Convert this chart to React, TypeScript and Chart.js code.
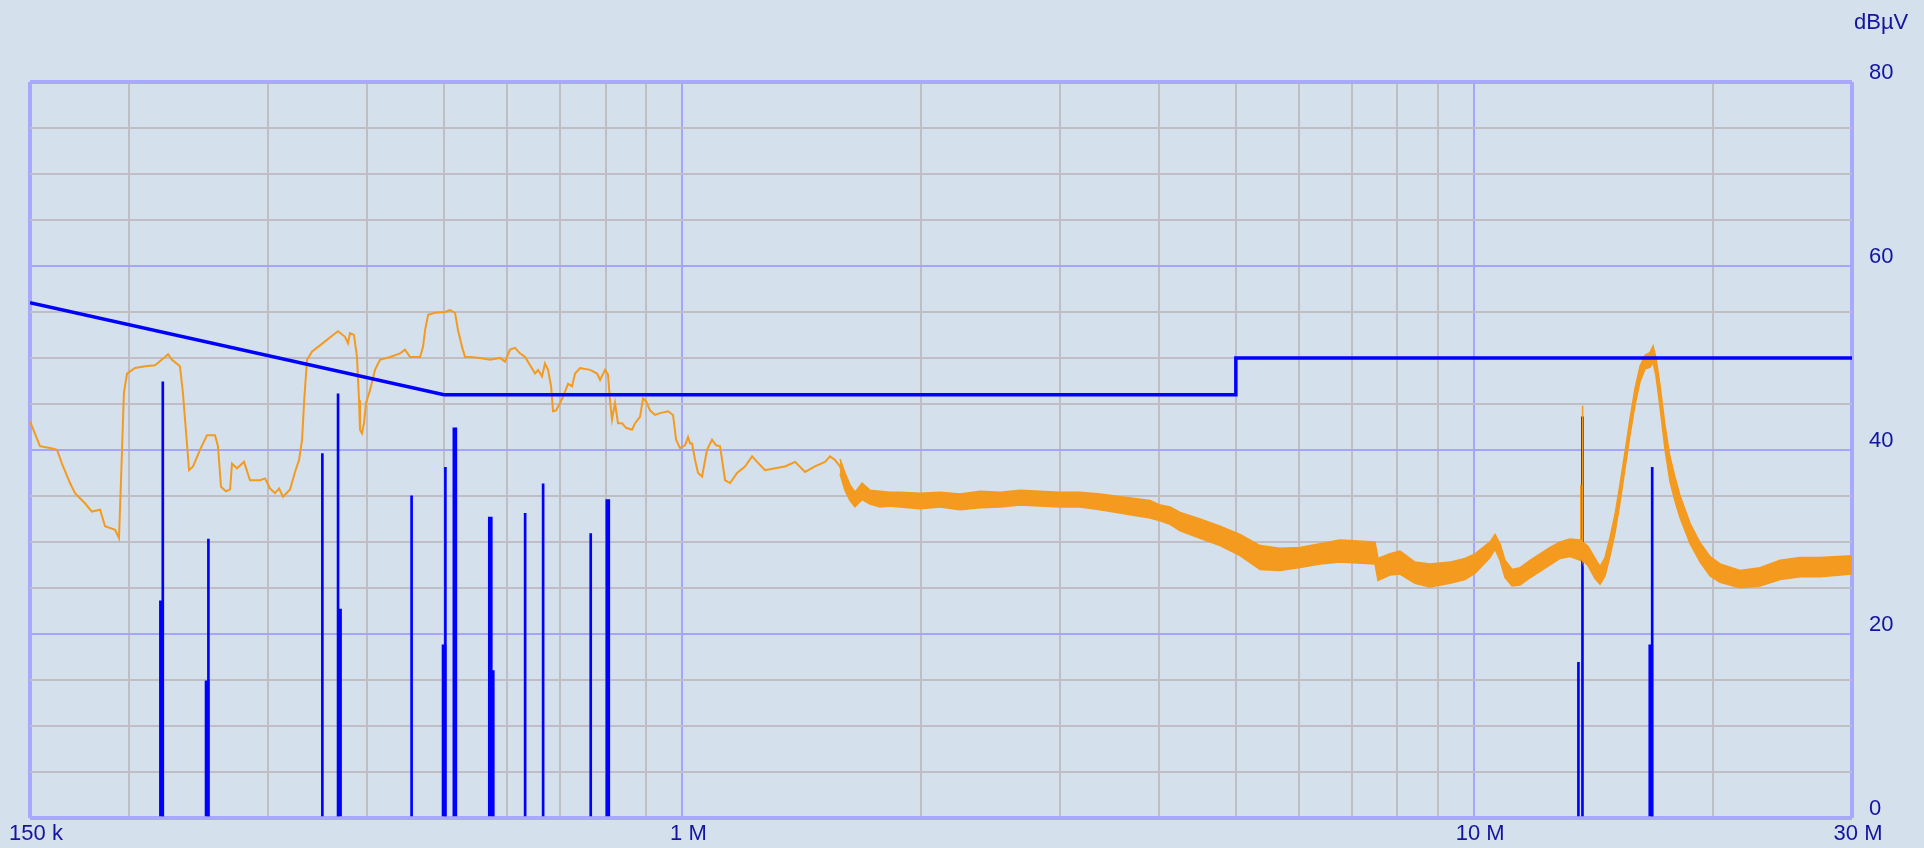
import React, { useEffect, useRef } from 'react';
import { Chart, registerables } from 'chart.js';

Chart.register(...registerables);

// ---- data (frequency in kHz, level in dBµV) ----
const traceFreqKHz = [
  150, 154.4, 159.0, 162.3, 164.6, 168.5, 171.0, 176.0, 179.6, 183.9, 186.6, 192.1, 194.3, 195.4, 197.1, 198.9,
  203.6, 209.6, 215.8, 222.1, 224.1, 226.7, 232.0, 234.0, 236.1, 238.2, 241.0, 245.9, 251.0, 256.9, 259.1, 261.4,
  265.2, 268.4, 269.9, 273.9, 279.5, 284.4, 292.9, 297.1, 301.5, 305.9, 309.5, 313.1, 319.5, 324.2, 328.0, 330.9,
  332.9, 335.7, 340.7, 346.7, 353.8, 362.1, 367.4, 374.9, 378.2, 380.4, 384.8, 388.2, 390.5, 391.6, 393.9, 396.2,
  398.5, 403.2, 409.1, 415.0, 427.4, 440.0, 446.4, 453.0, 466.3, 470.4, 473.2, 477.4, 487.1, 501.5, 508.8, 516.3,
  520.8, 526.9, 531.5, 539.3, 555.2, 571.6, 588.4, 597.0, 605.8, 614.7, 623.6, 632.9, 642.2, 651.6, 657.3, 664.9,
  670.7, 676.6, 682.6, 686.5, 692.6, 700.6, 706.9, 717.2, 725.5, 731.9, 742.6, 764.7, 780.3, 787.2, 798.7, 805.5,
  810.2, 814.9, 822.0, 829.3, 839.1, 848.8, 863.8, 871.4, 884.1, 891.9, 899.7, 910.1, 923.4, 937.1, 959.2, 973.2,
  981.8, 993.2, 1007.7, 1016.6, 1022.7, 1028.6, 1037.6, 1046.7, 1058.9, 1074.3, 1090.1, 1103.0, 1115.7, 1132.3, 1148.9, 1172.4,
  1199.7, 1224.6, 1242.6, 1271.8, 1309.3, 1347.9, 1387.6, 1428.7, 1470.6, 1514.0, 1536.3, 1558.8, 1581.6, 1604.7, 1628.1, 1652.0,
  1686.2,
];
const traceLevel = [
  43.1, 40.4, 40.2, 40.0, 38.5, 36.4, 35.3, 34.2, 33.3, 33.5, 31.7, 31.3, 30.4, 36.4, 46.2, 48.3,
  48.9, 49.1, 49.2, 50.1, 50.4, 49.8, 49.1, 46.2, 42.0, 37.8, 38.2, 40.0, 41.6, 41.6, 40.4, 36.0,
  35.5, 35.7, 38.5, 38.0, 38.7, 36.7, 36.7, 36.9, 35.8, 35.3, 35.8, 34.9, 35.7, 37.6, 38.9, 41.1,
  45.3, 49.8, 50.7, 51.2, 51.8, 52.5, 52.9, 52.3, 51.6, 52.7, 52.5, 50.1, 45.4, 42.2, 41.8, 42.9,
  45.1, 46.5, 48.7, 49.8, 50.1, 50.5, 50.9, 50.1, 50.1, 51.2, 53.0, 54.7, 54.9, 55.0, 55.2, 54.9,
  53.0, 51.2, 50.1, 50.1, 50.0, 49.8, 50.0, 49.6, 50.9, 51.1, 50.5, 50.1, 49.2, 48.3, 48.7, 48.0,
  49.4, 48.7, 46.9, 44.2, 44.3, 45.1, 45.8, 47.2, 46.9, 48.3, 48.9, 48.7, 48.3, 47.6, 48.7, 48.2,
  45.4, 43.3, 45.1, 42.9, 42.9, 42.4, 42.2, 42.9, 43.6, 45.6, 45.3, 44.3, 43.8, 44.0, 44.2, 43.8,
  41.1, 40.2, 40.5, 41.4, 40.7, 40.7, 38.9, 37.5, 37.1, 40.0, 41.1, 40.5, 40.4, 36.7, 36.4, 37.5,
  38.2, 39.3, 38.7, 37.8, 38.0, 38.2, 38.7, 37.6, 38.2, 38.7, 39.3, 38.9, 38.2, 36.4, 35.3, 34.6,
  35.5,
];

const bandFreqKHz = [
  1581.6, 1604.7, 1628.1, 1652.0, 1686.2, 1725.9, 1776.8, 1829.3, 1883.4, 1995.8, 2115.2, 2241.8, 2376.2, 2519.0, 2669.4, 2829.3,
  2998.2, 3178.0, 3368.7, 3896.4, 4011.2, 4130.4, 4252.1, 4506.5, 4775.6, 5061.6, 5364.2, 5685.3, 6024.9, 6385.8, 6767.7, 7493.6,
  7559.6, 7827.0, 8058.0, 8418.3, 8793.6, 9320.4, 9735.9, 10025, 10471, 10624, 10780, 10938, 11164, 11427, 11763, 12110,
  12469, 12837, 13216, 13607, 13625, 13640, 13690, 13700, 13712, 13927, 14212, 14418, 14629, 14846, 15062, 15282,
  15506, 15732, 15963, 16196, 16433, 16676, 16823, 16968, 17168, 17420, 17675, 17934, 18200, 18737, 19289, 19857,
  20442, 21660, 22956, 24338, 25793, 27344, 30000,
];
const bandUpper = [
  39.0, 37.5, 36.2, 35.4, 36.4, 35.6, 35.5, 35.4, 35.4, 35.3, 35.4, 35.2, 35.5, 35.4, 35.6, 35.5,
  35.4, 35.4, 35.2, 34.5, 34.0, 33.8, 33.2, 32.5, 31.7, 30.8, 29.6, 29.3, 29.4, 29.8, 30.2, 30.0,
  28.2, 28.7, 29.0, 27.8, 27.6, 27.8, 28.2, 28.7, 30.0, 30.8, 29.8, 28.0, 27.0, 27.2, 28.0, 28.7,
  29.4, 30.0, 30.3, 30.2, 36.2, 30.2, 30.0, 44.8, 30.0, 29.5, 28.2, 27.3, 28.3, 30.5, 33.0, 36.3,
  39.8, 43.4, 46.7, 49.1, 50.3, 50.6, 51.3, 50.0, 47.0, 42.6, 39.2, 37.0, 35.0, 32.0, 29.9, 28.4,
  27.6, 26.9, 27.2, 28.0, 28.3, 28.3, 28.5,
];
const bandLower = [
  37.4, 35.6, 34.5, 33.8, 34.6, 34.1, 33.8, 33.9, 33.8, 33.6, 33.8, 33.5, 33.7, 33.8, 34.0, 33.9,
  33.8, 33.8, 33.5, 32.6, 32.3, 31.9, 31.2, 30.4, 29.6, 28.5, 27.0, 26.9, 27.2, 27.6, 27.8, 27.6,
  25.8, 26.4, 26.5, 25.5, 25.1, 25.5, 25.9, 26.6, 28.3, 29.2, 28.0, 26.1, 25.2, 25.3, 26.1, 26.8,
  27.5, 28.2, 28.4, 28.0, 28.2, 28.2, 28.2, 28.2, 28.0, 27.4, 26.0, 25.4, 26.3, 28.5, 31.0, 34.3,
  38.0, 41.6, 44.9, 47.4, 48.8, 49.0, 49.5, 48.0, 44.6, 40.0, 36.5, 34.4, 32.6, 29.8, 27.8, 26.3,
  25.6, 25.0, 25.2, 25.9, 26.2, 26.2, 26.5,
];

const limitFreqKHz = [150, 500, 5000, 5000, 30000];
const limitLevel = [56, 46, 46, 50, 50];

const spikeThinFreqKHz = [220.7, 252.0, 351.0, 367.4, 455.0, 502.0, 577.0, 633.0, 667.0, 766.0, 13540, 13700, 16780];
const spikeThinLevel = [47.4, 30.3, 39.6, 46.1, 35.0, 38.1, 16.0, 33.1, 36.3, 30.9, 16.9, 43.6, 38.1];
const spikeThickFreqKHz = [219.8, 251.0, 369.0, 500.0, 516.0, 572.0, 805.0, 16710];
const spikeThickLevel = [23.6, 14.9, 22.7, 18.8, 42.4, 32.7, 34.6, 18.8];

const xTickKHz = [150, 200, 300, 400, 500, 600, 700, 800, 900, 1000, 2000, 3000, 4000, 5000, 6000, 7000, 8000, 9000, 10000, 20000, 30000];
const xLabelKHz = [150, 1000, 10000, 30000];
const xLabelText = ['150 k', '1 M', '10 M', '30 M'];
const xMajorKHz = [1000, 10000];
const yTicks = [0, 5, 10, 15, 20, 25, 30, 35, 40, 45, 50, 55, 60, 65, 70, 75, 80];
const yLabelValues = [0, 20, 40, 60, 80];
const unitText = 'dBµV';

// ---- styles ----
const BG = '#d4e0ec';
const ORANGE = '#f49a1e';
const BLUE = '#0000ff';
const GRID_GRAY = 'rgba(190,190,196,1)';
const GRID_MAJOR = 'rgba(165,165,255,1)';
const FRAME = 'rgba(168,168,255,1)';
const TEXT = '#1414a0';
const FONT_FAMILY = "'Liberation Sans', Arial, sans-serif";
const FONT_SIZE = 22;

const xy = (f: number[], v: number[]) => f.map((x, i) => ({ x, y: v[i] }));

const unitLabelPlugin = {
  id: 'unitLabel',
  afterDraw(chart: any) {
    const { ctx, chartArea } = chart;
    ctx.save();
    ctx.font = `${FONT_SIZE}px ${FONT_FAMILY}`;
    ctx.fillStyle = TEXT;
    ctx.textAlign = 'left';
    ctx.textBaseline = 'middle';
    ctx.fillText(unitText, chartArea.right + 2, chartArea.top - 59);
    ctx.restore();
  },
};

export default function App() {
  const ref = useRef<HTMLCanvasElement>(null);

  useEffect(() => {
    document.body.style.margin = '0';
    document.body.style.overflow = 'hidden';
    document.body.style.background = BG;
    const canvas = ref.current!;
    const chart = new Chart(canvas, {
      type: 'line',
      data: {
        datasets: [
          {
            type: 'line',
            data: xy(limitFreqKHz, limitLevel),
            borderColor: BLUE,
            borderWidth: 3.5,
            pointRadius: 0,
            tension: 0,
            fill: false,
            order: 0,
          } as any,
          {
            type: 'line',
            data: xy(traceFreqKHz, traceLevel),
            borderColor: ORANGE,
            borderWidth: 2,
            pointRadius: 0,
            tension: 0,
            fill: false,
            order: 1,
          } as any,
          {
            type: 'line',
            data: xy(bandFreqKHz, bandUpper),
            borderColor: ORANGE,
            backgroundColor: ORANGE,
            borderWidth: 1.5,
            pointRadius: 0,
            tension: 0,
            fill: '+1',
            order: 2,
          } as any,
          {
            type: 'line',
            data: xy(bandFreqKHz, bandLower),
            borderColor: ORANGE,
            borderWidth: 1.5,
            pointRadius: 0,
            tension: 0,
            fill: false,
            order: 2,
          } as any,
          {
            type: 'bar',
            data: xy(spikeThinFreqKHz, spikeThinLevel),
            backgroundColor: BLUE,
            borderWidth: 0,
            barThickness: 2,
            grouped: false,
            order: 3,
          } as any,
          {
            type: 'bar',
            data: xy(spikeThickFreqKHz, spikeThickLevel),
            backgroundColor: BLUE,
            borderWidth: 0,
            barThickness: 4,
            grouped: false,
            order: 3,
          } as any,
        ],
      },
      options: {
        animation: false,
        responsive: false,
        events: [],
        layout: { padding: { left: 30, top: 82, right: 0, bottom: 0 } },
        plugins: {
          legend: { display: false },
          tooltip: { enabled: false },
        },
        scales: {
          x: {
            type: 'logarithmic',
            min: 150,
            max: 30000,
            offset: false,
            afterBuildTicks: (s: any) => {
              s.ticks = xTickKHz.map((v) => ({ value: v }));
            },
            afterFit: (s: any) => {
              s.height = 30;
            },
            ticks: {
              autoSkip: false,
              maxRotation: 0,
              minRotation: 0,
              padding: 3,
              labelOffset: 6,
              color: TEXT,
              font: { family: FONT_FAMILY, size: FONT_SIZE },
              callback: (v: any) => {
                const i = xLabelKHz.indexOf(Number(v));
                return i >= 0 ? xLabelText[i] : '';
              },
            },
            grid: {
              offset: false,
              drawTicks: false,
              color: (ctx: any) => {
                const v = ctx.tick?.value;
                if (v === 150 || v === 30000) return FRAME;
                return xMajorKHz.includes(v) ? GRID_MAJOR : GRID_GRAY;
              },
              lineWidth: (ctx: any) => {
                const v = ctx.tick?.value;
                if (v === 150 || v === 30000) return 4;
                return 2;
              },
            },
            border: { display: false },
          },
          y: {
            type: 'linear',
            position: 'right',
            min: 0,
            max: 80,
            offset: false,
            afterBuildTicks: (s: any) => {
              s.ticks = yTicks.map((v) => ({ value: v }));
            },
            afterFit: (s: any) => {
              s.width = 72;
            },
            ticks: {
              autoSkip: false,
              padding: 17,
              labelOffset: -9,
              color: TEXT,
              font: { family: FONT_FAMILY, size: FONT_SIZE },
              callback: (v: any) => (yLabelValues.includes(Number(v)) ? String(v) : ''),
            },
            grid: {
              offset: false,
              drawTicks: false,
              color: (ctx: any) => {
                const v = ctx.tick?.value;
                if (v === 0 || v === 80) return FRAME;
                return v % 20 === 0 ? GRID_MAJOR : GRID_GRAY;
              },
              lineWidth: (ctx: any) => {
                const v = ctx.tick?.value;
                if (v === 0 || v === 80) return 4;
                return 2;
              },
            },
            border: { display: false },
          },
        },
      } as any,
      plugins: [unitLabelPlugin],
    });
    return () => chart.destroy();
  }, []);

  return (
    <div style={{ width: 1924, height: 848, background: BG, position: 'fixed', left: 0, top: 0 }}>
      <canvas ref={ref} width={1924} height={848} style={{ display: 'block', width: 1924, height: 848 }} />
    </div>
  );
}
